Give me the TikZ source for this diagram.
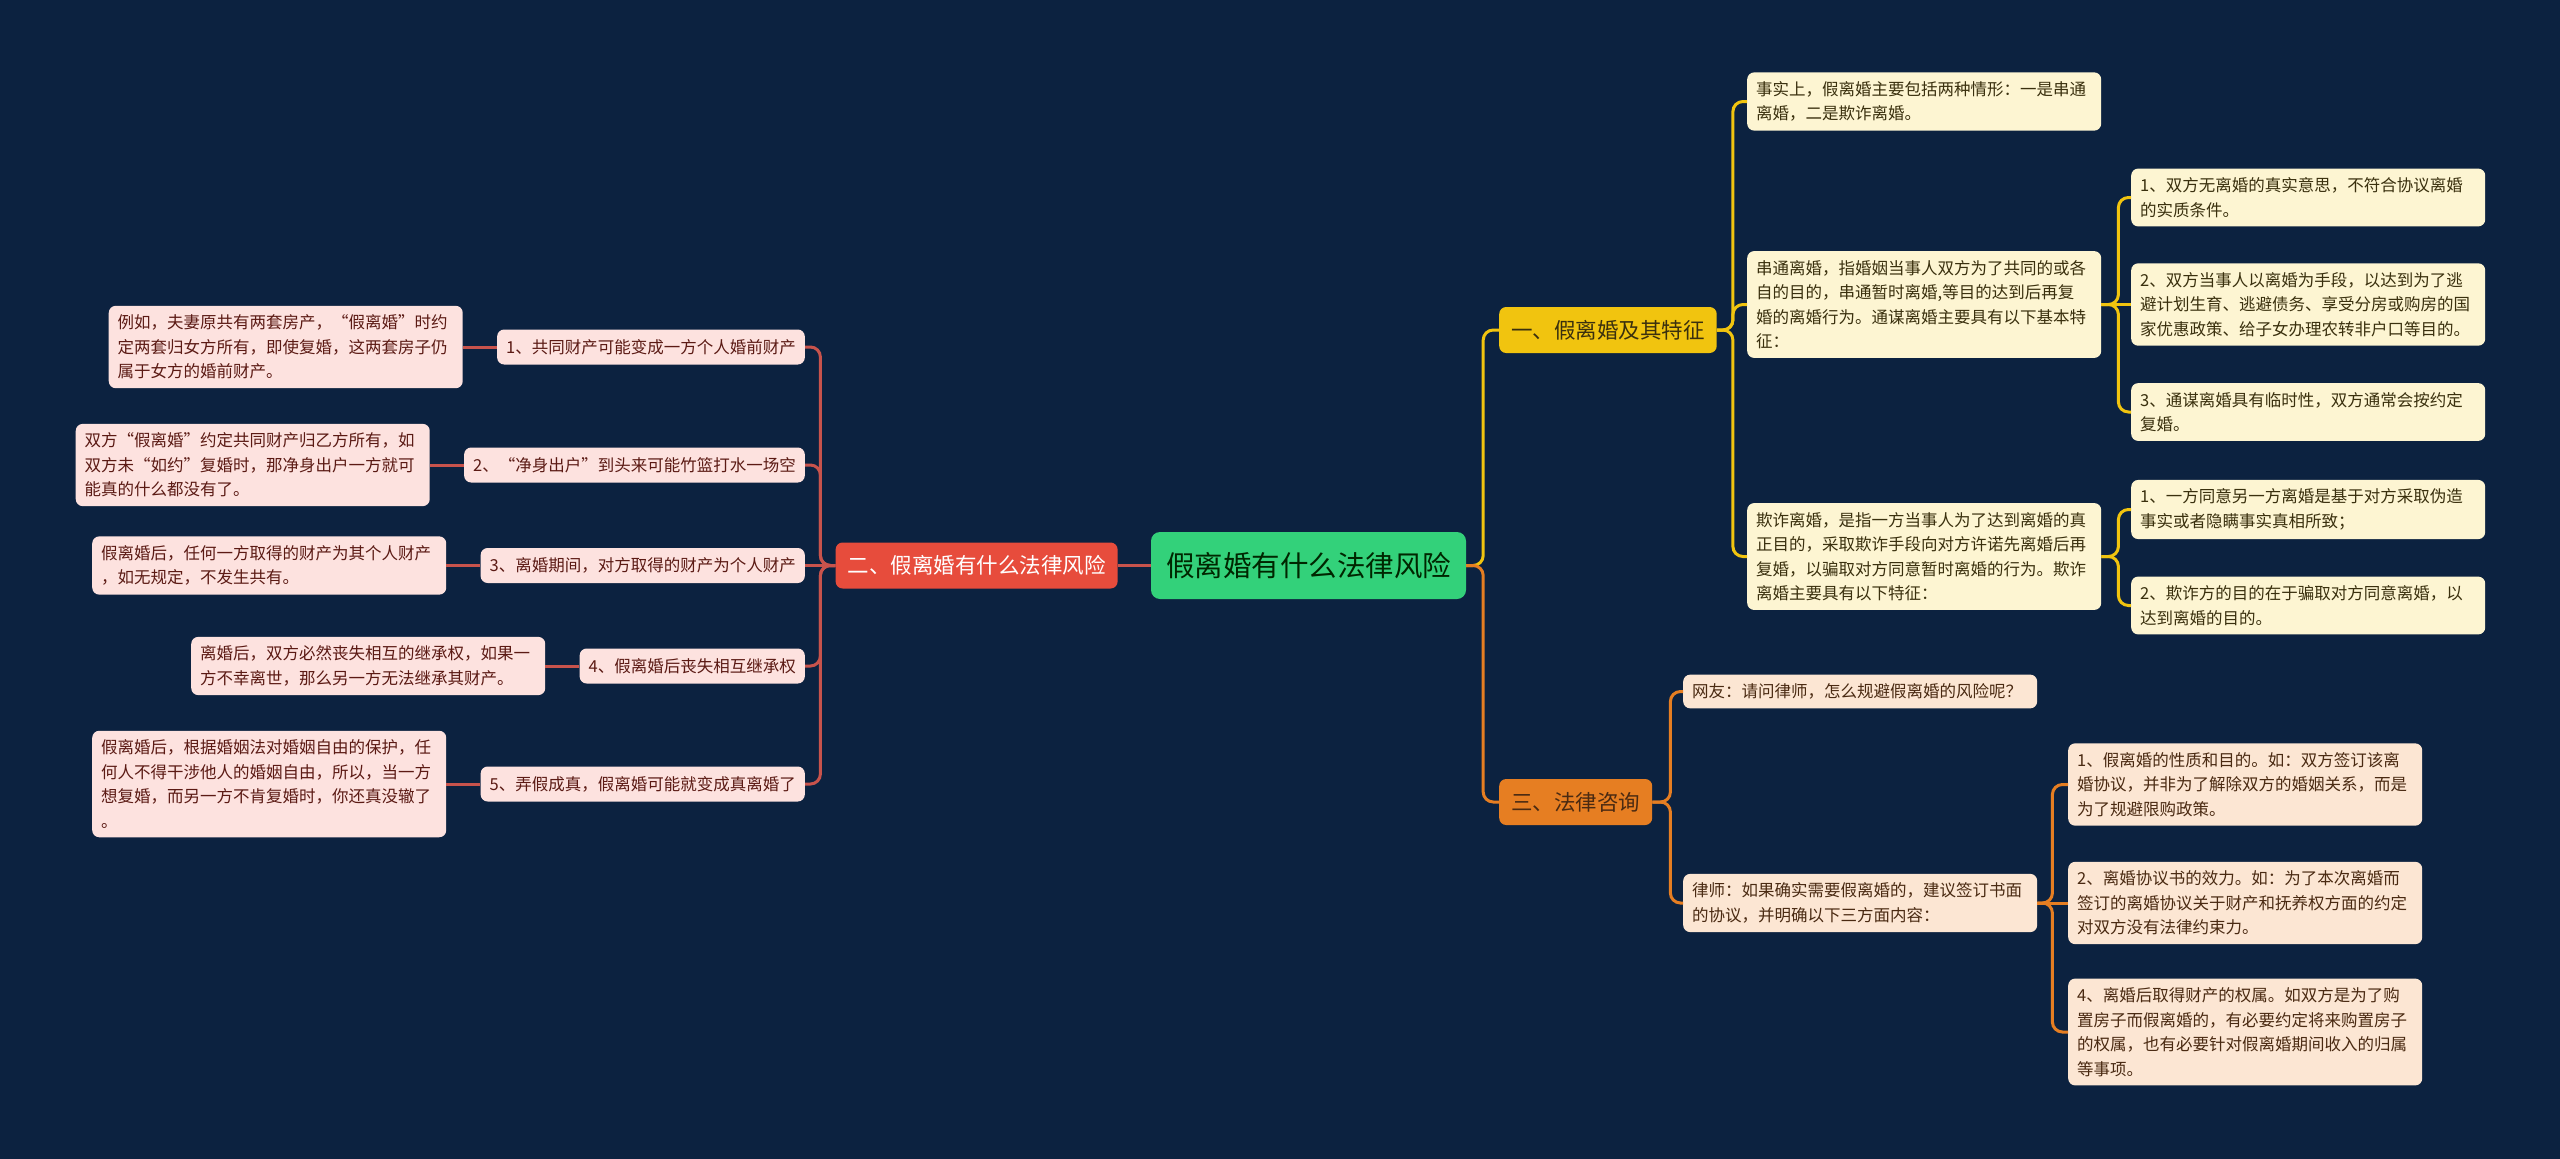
\documentclass[tikz,border=0pt]{standalone}
\usepackage{fontspec}
\setmainfont{Noto Sans CJK SC}
\usepackage{xcolor}
\usetikzlibrary{positioning}
\definecolor{bgnavy}{HTML}{0C2240}
\definecolor{rootgrn}{HTML}{33D17A}
\definecolor{redbr}{HTML}{E74C3C}
\definecolor{yelbr}{HTML}{F1C40F}
\definecolor{orabr}{HTML}{E67E22}
\definecolor{redln}{HTML}{C8534C}
\definecolor{pinkbg}{HTML}{FDE2DF}
\definecolor{pinktx}{HTML}{5B1A14}
\definecolor{creambg}{HTML}{FDF5D2}
\definecolor{creamtx}{HTML}{3A300E}
\definecolor{peachbg}{HTML}{FCE6D3}
\definecolor{peachtx}{HTML}{4A2A12}
\newcommand{\leaffont}{\fontsize{16.5}{24.5}\selectfont}
\newcommand{\brfont}{\fontsize{21.5}{26}\selectfont}
\newcommand{\rootfont}{\fontsize{28.5}{34}\selectfont}
\tikzset{
  rootnd/.style={fill=rootgrn, text=black!85!green, rounded corners=9pt, font=\rootfont,
                 minimum width=315pt, minimum height=67pt, inner sep=0pt},
  brnd/.style={rounded corners=7pt, font=\brfont, minimum height=46pt, inner xsep=12pt, inner ysep=0pt},
  subpk/.style={fill=pinkbg, text=pinktx, rounded corners=7pt, font=\leaffont,
                minimum height=35pt, inner xsep=9pt, inner ysep=0pt, anchor=east},
  leafpk/.style={fill=pinkbg, text=pinktx, rounded corners=7pt, font=\leaffont,
                 align=left, text width=336pt, inner xsep=9pt, inner ysep=9pt},
  leafcr/.style={leafpk, fill=creambg, text=creamtx, anchor=west},
  leafpc/.style={leafpk, fill=peachbg, text=peachtx, anchor=west},
  lnred/.style={draw=redln, line width=3pt, rounded corners=10pt},
  lnyel/.style={lnred, draw=yelbr},
  lnora/.style={lnred, draw=orabr},
}

\begin{document}
\begin{tikzpicture}[x=1pt, y=-1pt]
    \useasboundingbox (0,0) rectangle (2560,1159);
    \fill[bgnavy] (0,0) rectangle (2560,1159);

    % centre and main branches
    \node[rootnd] (root) at (1308.5,565.5) {假离婚有什么法律风险};
    \node[brnd, fill=redbr, text=white, left=33pt of root] (br2) {二、假离婚有什么法律风险};
    \node[brnd, fill=yelbr, text=creamtx, anchor=west] (br1) at (1499,330) {一、假离婚及其特征};
    \node[brnd, fill=orabr, text=peachtx, anchor=west] (br3) at (1499,802) {三、法律咨询};

    % left side
    \node[subpk] (risk1) at (805,347) {1、共同财产可能变成一方个人婚前财产};
    \node[subpk] (risk2) at (805,465) {2、“净身出户”到头来可能竹篮打水一场空};
    \node[subpk] (risk3) at (805,565.5) {3、离婚期间，对方取得的财产为个人财产};
    \node[subpk] (risk4) at (805,666) {4、假离婚后丧失相互继承权};
    \node[subpk] (risk5) at (805,784) {5、弄假成真，假离婚可能就变成真离婚了};
    \node[leafpk, left=34pt of risk1] (note1) {例如，夫妻原共有两套房产，“假离婚”时约\\定两套归女方所有，即使复婚，这两套房子仍\\属于女方的婚前财产。};
    \node[leafpk, left=34pt of risk2] (note2) {双方“假离婚”约定共同财产归乙方所有，如\\双方未“如约”复婚时，那净身出户一方就可\\能真的什么都没有了。};
    \node[leafpk, left=34pt of risk3] (note3) {假离婚后，任何一方取得的财产为其个人财产\\，如无规定，不发生共有。};
    \node[leafpk, left=34pt of risk4] (note4) {离婚后，双方必然丧失相互的继承权，如果一\\方不幸离世，那么另一方无法继承其财产。};
    \node[leafpk, left=34pt of risk5] (note5) {假离婚后，根据婚姻法对婚姻自由的保护，任\\何人不得干涉他人的婚姻自由，所以，当一方\\想复婚，而另一方不肯复婚时，你还真没辙了\\。};

    % right side, first branch
    \node[leafcr] (kind) at (1747,101.5) {事实上，假离婚主要包括两种情形：一是串通\\离婚，二是欺诈离婚。};
    \node[leafcr] (coll) at (1747,304.5) {串通离婚，指婚姻当事人双方为了共同的或各\\自的目的，串通暂时离婚,等目的达到后再复\\婚的离婚行为。通谋离婚主要具有以下基本特\\征：};
    \node[leafcr] (frau) at (1747,556.5) {欺诈离婚，是指一方当事人为了达到离婚的真\\正目的，采取欺诈手段向对方许诺先离婚后再\\复婚，以骗取对方同意暂时离婚的行为。欺诈\\离婚主要具有以下特征：};
    \node[leafcr] (coll1) at (2131,197.5) {1、双方无离婚的真实意思，不符合协议离婚\\的实质条件。};
    \node[leafcr] (coll2) at (2131,304.5) {2、双方当事人以离婚为手段，以达到为了逃\\避计划生育、逃避债务、享受分房或购房的国\\家优惠政策、给子女办理农转非户口等目的。};
    \node[leafcr] (coll3) at (2131,412) {3、通谋离婚具有临时性，双方通常会按约定\\复婚。};
    \node[leafcr] (frau1) at (2131,509.5) {1、一方同意另一方离婚是基于对方采取伪造\\事实或者隐瞒事实真相所致；};
    \node[leafcr] (frau2) at (2131,605.5) {2、欺诈方的目的在于骗取对方同意离婚，以\\达到离婚的目的。};

    % right side, third branch
    \node[leafpc] (ask) at (1683,691.5) {网友：请问律师，怎么规避假离婚的风险呢？};
    \node[leafpc] (reply) at (1683,903) {律师：如果确实需要假离婚的，建议签订书面\\的协议，并明确以下三方面内容：};
    \node[leafpc] (tip1) at (2068,784.5) {1、假离婚的性质和目的。如：双方签订该离\\婚协议，并非为了解除双方的婚姻关系，而是\\为了规避限购政策。};
    \node[leafpc] (tip2) at (2068,903) {2、离婚协议书的效力。如：为了本次离婚而\\签订的离婚协议关于财产和抚养权方面的约定\\对双方没有法律约束力。};
    \node[leafpc] (tip3) at (2068,1032) {4、离婚后取得财产的权属。如双方是为了购\\置房子而假离婚的，有必要约定将来购置房子\\的权属，也有必要针对假离婚期间收入的归属\\等事项。};

    % connectors: rounded at the child, square where they meet the parent
    \draw[lnred] (root.west) -- (br2.east);
    \draw[lnred] (risk1.east) -| ([xshift=-15pt]br2.west) [sharp corners] -- (br2.west);
    \draw[lnred] (risk2.east) -| ([xshift=-15pt]br2.west) [sharp corners] -- (br2.west);
    \draw[lnred] (risk3.east) -- (br2.west);
    \draw[lnred] (risk4.east) -| ([xshift=-15pt]br2.west) [sharp corners] -- (br2.west);
    \draw[lnred] (risk5.east) -| ([xshift=-15pt]br2.west) [sharp corners] -- (br2.west);
    \draw[lnred] (risk1.west) -- (risk1.west -| note1.east);
    \draw[lnred] (risk2.west) -- (risk2.west -| note2.east);
    \draw[lnred] (risk3.west) -- (risk3.west -| note3.east);
    \draw[lnred] (risk4.west) -- (risk4.west -| note4.east);
    \draw[lnred] (risk5.west) -- (risk5.west -| note5.east);

    \draw[lnyel] (br1.west) -| ([xshift=17pt]root.east) [sharp corners] -- (root.east);
    \draw[lnyel] (kind.west) -| ([xshift=16pt]br1.east) [sharp corners] -- (br1.east);
    \draw[lnyel] (coll.west) -| ([xshift=16pt]br1.east) [sharp corners] -- (br1.east);
    \draw[lnyel] (frau.west) -| ([xshift=16pt]br1.east) [sharp corners] -- (br1.east);
    \draw[lnyel] (coll1.west) -| ([xshift=17pt]coll.east) [sharp corners] -- (coll.east);
    \draw[lnyel] (coll2.west) -- (coll.east);
    \draw[lnyel] (coll3.west) -| ([xshift=17pt]coll.east) [sharp corners] -- (coll.east);
    \draw[lnyel] (frau1.west) -| ([xshift=17pt]frau.east) [sharp corners] -- (frau.east);
    \draw[lnyel] (frau2.west) -| ([xshift=17pt]frau.east) [sharp corners] -- (frau.east);

    \draw[lnora] (br3.west) -| ([xshift=17pt]root.east) [sharp corners] -- (root.east);
    \draw[lnora] (ask.west) -| ([xshift=18pt]br3.east) [sharp corners] -- (br3.east);
    \draw[lnora] (reply.west) -| ([xshift=18pt]br3.east) [sharp corners] -- (br3.east);
    \draw[lnora] (tip1.west) -| ([xshift=15pt]reply.east) [sharp corners] -- (reply.east);
    \draw[lnora] (tip2.west) -- (reply.east);
    \draw[lnora] (tip3.west) -| ([xshift=15pt]reply.east) [sharp corners] -- (reply.east);
\end{tikzpicture}
\end{document}
